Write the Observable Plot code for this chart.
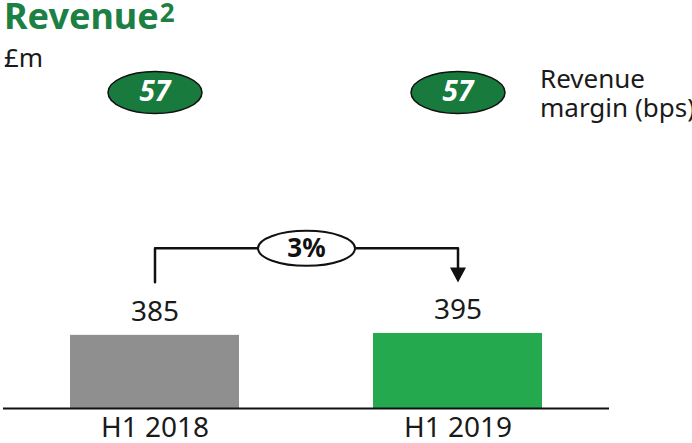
<!DOCTYPE html>
<html>
<head>
<meta charset="utf-8">
<script src="https://cdn.jsdelivr.net/npm/d3@7"></script>
<script src="https://cdn.jsdelivr.net/npm/@observablehq/plot@0.6"></script>
<style>
  html, body { margin: 0; padding: 0; background: #fff; }
  #wrap { position: relative; width: 692px; height: 443px; overflow: hidden; font-family: "Noto Sans", sans-serif; color: #1a1a1a; }
  #wrap svg { position: absolute; left: 0; top: 0; }
  .ov { position: absolute; white-space: nowrap; line-height: 1; }
  #title { left: 4px; top: -2px; font-size: 36px; font-weight: bold; color: #1c7f44; }
  #title sup { font-size: 26px; position: relative; top: -7px; vertical-align: baseline; margin-left: 1px; }
  #unit { left: 4px; top: 44px; font-size: 26px; }
  #leg1 { left: 540px; top: 65px; font-size: 26px; }
  #leg2 { left: 540px; top: 94px; font-size: 26px; }
</style>
</head>
<body>
<div id="wrap">
  <div class="ov" id="title">Revenue<sup>2</sup></div>
  <div class="ov" id="unit">£m</div>
  <div class="ov" id="leg1">Revenue</div>
  <div class="ov" id="leg2">margin (bps)</div>
</div>
<script>
// ---- data ----
const periods = ["H1 2018", "H1 2019"];
const revenue = [385, 395];
const marginBps = [57, 57];
const growthLabel = "3%";
const barColors = ["#8f8f8f", "#25a94f"];

// ---- layout ----
const W = 692, H = 443, mL = 3, mR = 83, mT = 28, mB = 35;
const bracketLow = 664, bracketTop = 843, shaftEnd = 742, headCenter = 703;

const data = periods.map((p, i) => ({period: p, revenue: revenue[i], margin: marginBps[i], color: barColors[i]}));

function ellipseSymbol(rx, ry) {
  const k = 0.5523;
  return {draw(ctx) {
    ctx.moveTo(rx, 0);
    ctx.bezierCurveTo(rx, ry * k, rx * k, ry, 0, ry);
    ctx.bezierCurveTo(-rx * k, ry, -rx, ry * k, -rx, 0);
    ctx.bezierCurveTo(-rx, -ry * k, -rx * k, -ry, 0, -ry);
    ctx.bezierCurveTo(rx * k, -ry, rx, -ry * k, rx, 0);
    ctx.closePath();
  }};
}
const triDown = {draw(ctx) { ctx.moveTo(-8, -7.5); ctx.lineTo(8, -7.5); ctx.lineTo(0, 7.5); ctx.closePath(); }};

const bracket = [
  {period: periods[0], y: bracketLow},
  {period: periods[0], y: bracketTop},
  {period: periods[1], y: bracketTop},
  {period: periods[1], y: shaftEnd}
];
const midDx = ((mL + (W - mR)) / 2) - mL;

const chart = Plot.plot({
  width: W, height: H,
  marginLeft: mL, marginRight: mR, marginTop: mT, marginBottom: mB,
  x: {domain: periods, paddingInner: 0.442, paddingOuter: 0.221, label: null, tickSize: 0, tickPadding: 9},
  y: {domain: [0, 2000], axis: null},
  style: {fontFamily: "Noto Sans", fontSize: "28px", color: "#1a1a1a", background: "transparent", overflow: "visible"},
  marks: [
    Plot.barY(data, {x: "period", y: "revenue", fill: "color"}),
    Plot.ruleY([0], {stroke: "#111", strokeWidth: 2}),
    Plot.text(data, {x: "period", y: "revenue", text: d => String(d.revenue), dy: -23, fontSize: 28, fill: "#1a1a1a"}),
    Plot.dot(data, {x: "period", frameAnchor: "top", dy: 64, symbol: ellipseSymbol(47, 21), fill: "#187a3d", stroke: "#111", strokeWidth: 1.5}),
    Plot.text(data, {x: "period", frameAnchor: "top", dy: 64, lineAnchor: "middle", text: d => String(d.margin), fill: "white", fontWeight: "bold", fontStyle: "italic", fontSize: 28}),
    Plot.line(bracket, {x: "period", y: "y", stroke: "#111", strokeWidth: 2.5, curve: "linear"}),
    Plot.dot([periods[1]], {x: d => d, y: () => headCenter, symbol: triDown, fill: "#111", stroke: "none"}),
    Plot.dot([growthLabel], {y: () => bracketTop, frameAnchor: "left", dx: midDx, symbol: ellipseSymbol(48.5, 17.5), fill: "white", stroke: "#111", strokeWidth: 2}),
    Plot.text([growthLabel], {y: () => bracketTop, frameAnchor: "left", dx: midDx, lineAnchor: "middle", text: d => d, fontWeight: "bold", fontSize: 26, fill: "#111", textAnchor: "middle"})
  ]
});
document.getElementById("wrap").prepend(chart);
</script>
</body>
</html>
